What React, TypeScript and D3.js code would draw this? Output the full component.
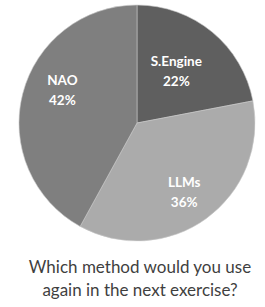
import * as d3 from "d3";
import React from "react";

const labels = ["S.Engine", "LLMs", "NAO"];
const values = [22, 36, 42];
const colors = ["#5f5f5f", "#ababab", "#7f7f7f"];
const titleLines = ["Which method would you use", "again in the next exercise?"];

export default function App() {
  const width = 265;
  const height = 307;
  const cx = 137;
  const cy = 123;
  const r = 118;

  const pie = d3.pie<number>().sort(null).value(d => d);
  const arcs = pie(values);
  const arc = d3.arc<d3.PieArcDatum<number>>().innerRadius(0).outerRadius(r);

  // label placement: radius fraction and angle nudge (radians) per wedge, like Excel's "best fit"
  const labelRadius = [0.55, 0.71, 0.69];
  const labelTurn = [-0.04, 0.03, 0.16];

  return (
    <svg width={width} height={height} style={{ position: "absolute", left: 0, top: 0 }}>
      <rect width={width} height={height} fill="#fff" />
      <g transform={`translate(${cx},${cy})`}>
        {arcs.map((a, i) => (
          <path key={i} d={arc(a) || ""} fill={colors[i]} stroke="#c8c8c8" strokeWidth={0.6} />
        ))}
        {arcs.map((a, i) => {
          const mid = (a.startAngle + a.endAngle) / 2 + labelTurn[i];
          const lr = r * labelRadius[i];
          const x = lr * Math.sin(mid);
          const y = -lr * Math.cos(mid);
          return (
            <text key={i} x={x} y={y} textAnchor="middle" fill="#fff" fontFamily="Lato" fontWeight="bold" fontSize={13.5}>
              <tspan x={x} dy={-5}>{labels[i]}</tspan>
              <tspan x={x} dy={20}>{values[i]}%</tspan>
            </text>
          );
        })}
      </g>
      {titleLines.map((t, i) => (
        <text key={i} x={140} y={273 + i * 23} textAnchor="middle" fill="#3f3f3f" fontFamily="Lato" fontSize={17}>
          {t}
        </text>
      ))}
    </svg>
  );
}
